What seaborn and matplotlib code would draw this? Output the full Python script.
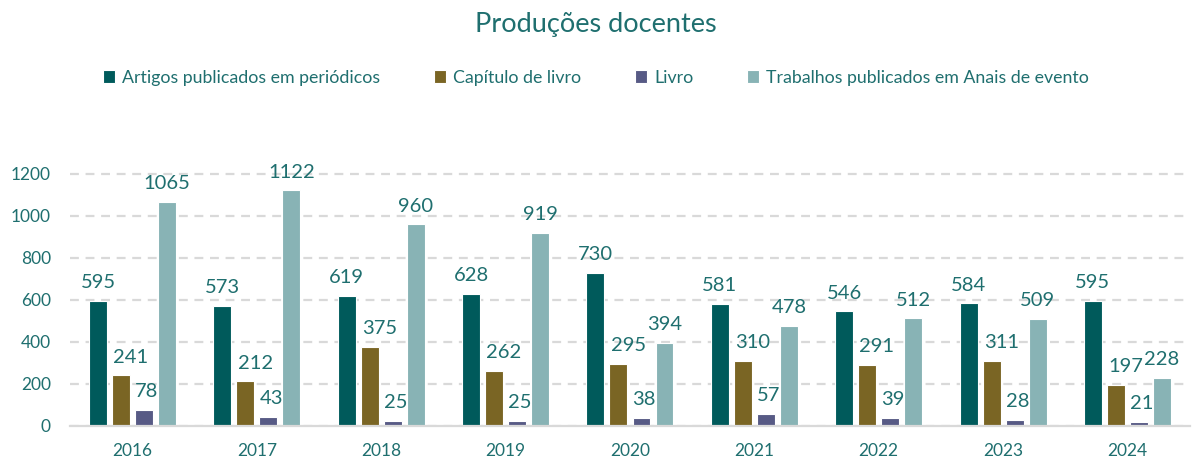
import matplotlib
matplotlib.use("Agg")
import pandas as pd
import matplotlib.pyplot as plt
import seaborn as sns

# Dados
anos = ["2016", "2017", "2018", "2019", "2020", "2021", "2022", "2023", "2024"]
artigos = [595, 573, 619, 628, 730, 581, 546, 584, 595]
capitulos = [241, 212, 375, 262, 295, 310, 291, 311, 197]
livros = [78, 43, 25, 25, 38, 57, 39, 28, 21]
anais = [1065, 1122, 960, 919, 394, 478, 512, 509, 228]

series = {
    "Artigos publicados em periódicos": artigos,
    "Capítulo de livro": capitulos,
    "Livro": livros,
    "Trabalhos publicados em Anais de evento": anais,
}
cores = ["#005A5B", "#7A6524", "#575A85", "#88B3B5"]
TEXTO = "#1F6F6F"

df = pd.DataFrame(
    [(ano, nome, v) for nome, vals in series.items() for ano, v in zip(anos, vals)],
    columns=["ano", "tipo", "valor"],
)

sns.set_theme(style="white")
plt.rcParams["font.family"] = ["Lato", "DejaVu Sans"]

fig = plt.figure(figsize=(11.92, 4.66), dpi=100)
ax = fig.add_axes([0.059, 0.086, 0.939, 0.586])

sns.barplot(data=df, x="ano", y="valor", hue="tipo", palette=cores,
            width=0.74, gap=0.22, ax=ax, saturation=1, edgecolor="white",
            linewidth=0.8)

# rótulos; os de capítulo levemente deslocados p/ direita (como no Excel)
deslocs = [0, 7, 2, 0]  # em pontos
for cont, dx in zip(ax.containers, deslocs):
    textos = ax.bar_label(cont, fmt="%d", padding=7, fontsize=14.5, color=TEXTO)
    for t in textos:
        t.xyann = (dx, t.xyann[1])

ax.set_ylim(0, 1300)
ax.set_yticks(range(0, 1201, 200))
ax.yaxis.grid(True, linestyle=(0, (4, 3)), color="#D9D9D9", linewidth=1.6)
ax.set_axisbelow(True)
for s in ["top", "right", "left"]:
    ax.spines[s].set_visible(False)
ax.spines["bottom"].set_color("#D9D9D9")
ax.spines["bottom"].set_linewidth(1.6)
ax.set_xlabel("")
ax.set_ylabel("")
ax.tick_params(axis="both", length=0, labelsize=12.5, labelcolor=TEXTO)
ax.tick_params(axis="x", pad=12)
ax.tick_params(axis="y", pad=14)

handles, labels = ax.get_legend_handles_labels()
ax.get_legend().remove()
fig.legend(handles, labels, loc="center", bbox_to_anchor=(0.5, 0.833), ncol=4,
           frameon=False, fontsize=12.8, labelcolor=TEXTO, handlelength=0.7,
           handleheight=0.7, handletextpad=0.4, columnspacing=3.0)

fig.suptitle("Produções docentes", x=0.5, y=0.975, fontsize=19.5, color=TEXTO)

fig.savefig("out.png", dpi=100)
